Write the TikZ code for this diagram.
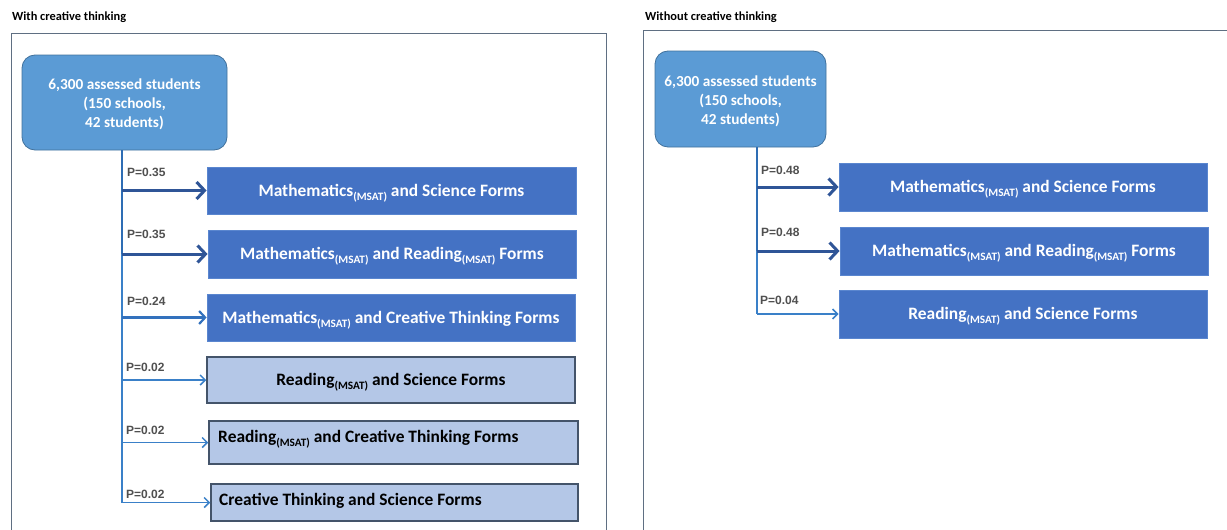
\documentclass[tikz,border=0pt]{standalone}
\usepackage{fontspec}
\setmainfont{Carlito}
\newfontfamily\arialf{Liberation Sans}
\usetikzlibrary{arrows.meta}
\definecolor{rootfill}{HTML}{5B9BD5}
\definecolor{rootdraw}{HTML}{41719C}
\definecolor{dfill}{HTML}{4472C4}
\definecolor{dborder}{HTML}{5A86CF}
\definecolor{lfill}{HTML}{B4C7E7}
\definecolor{lborder}{HTML}{44546A}
\definecolor{pgray}{HTML}{505050}
\definecolor{framec}{HTML}{5F6F82}
\definecolor{thickc}{HTML}{2F5597}
\definecolor{medc}{HTML}{3371BD}
\definecolor{thinc}{HTML}{3A80C8}
\definecolor{trunkc}{HTML}{2E6DB4}
\newcommand\msub{\raisebox{-4pt}{\fontsize{11.3}{11}\selectfont (MSAT)}}
\begin{document}
\begin{tikzpicture}[x=1pt,y=-1pt,
  rootbox/.style={rectangle, rounded corners=13pt, fill=rootfill, draw=rootdraw, line width=0.8pt, inner sep=0pt},
  roottext/.style={text=white, font=\fontsize{15.3}{19}\selectfont\bfseries, align=center, inner sep=0pt},
  dbox/.style={rectangle, fill=dfill, draw=dborder, line width=0.8pt, text=white,
    font=\fontsize{17.4}{20}\selectfont\bfseries, inner sep=0pt, text height=11pt, text depth=0pt},
  lbox/.style={rectangle, fill=lfill, draw=lborder, line width=1.5pt, text=black,
    font=\fontsize{17.4}{20}\selectfont\bfseries, inner sep=0pt, text height=11pt, text depth=0pt},
  lbltext/.style={anchor=west, inner sep=0pt, text=black, font=\fontsize{17.4}{20}\selectfont\bfseries,
    text height=11pt, text depth=0pt},
  plab/.style={anchor=west, inner sep=0pt, text=pgray, font=\arialf\bfseries\fontsize{12}{12}\selectfont},
  titlelab/.style={anchor=west, inner sep=0pt, text=black, font=\fontsize{12.4}{12}\selectfont\bfseries},
  framel/.style={draw=framec, line width=1pt},
  thickarr/.style={draw=thickc, line width=3pt, -{Straight Barb[length=8pt,width=17pt]}},
  medarr/.style={draw=medc, line width=2.2pt, -{Straight Barb[length=6pt,width=13pt]}},
  thinarr/.style={draw=thinc, line width=1.5pt, -{Straight Barb[length=5pt,width=10pt]}},
  trunkthick/.style={draw=trunkc, line width=2.6pt},
  trunkthin/.style={draw=thinc, line width=1.8pt}
]
\useasboundingbox (0,0) rectangle (1227,530);

% titles and frames
\node[titlelab] (t1) at (12,17) {With creative thinking};
\node[titlelab] (t2) at (645,17) {Without creative thinking};
\draw[framel] (11,530) -- (11,33) -- (606,33) -- (606,530);
\draw[framel] (643,530) -- (643,30) -- (1227,30);

% ---------- left panel ----------
\node[rootbox, minimum width=205pt, minimum height=95pt] (rootL) at (124.5,102.5) {};
\node[roottext] (rootLt) at (124.5,104.5) {6,300 assessed students\\(150 schools,\\42 students)};

\node[dbox, minimum width=369pt, minimum height=47pt] (m1) at (391.5,190.5)
  {Mathematics\msub{} and Science Forms};
\node[dbox, minimum width=368pt, minimum height=48pt] (m2) at (392,254)
  {Mathematics\msub{} and Reading\msub{} Forms};
\node[dbox, minimum width=368pt, minimum height=47pt] (m3) at (391,317.5)
  {Mathematics\msub{} and Creative Thinking Forms};
\node[lbox, minimum width=368pt, minimum height=46pt] (r4) at (391,380)
  {Reading\msub{} and Science Forms};
\node[lbox, minimum width=369pt, minimum height=43pt] (r5) at (393.5,442.5) {};
\node[lbltext] (r5t) at (218,437) {Reading\msub{} and Creative Thinking Forms};
\node[lbox, minimum width=367pt, minimum height=37pt] (r6) at (394.5,502.5) {};
\node[lbltext] (r6t) at (219,499.5) {Creative Thinking and Science Forms};

\coordinate (tl) at ([xshift=-2.5pt]rootL.south);
\draw[trunkthick] (tl) -- (tl |- m2.west);
\draw[trunkthin] (tl |- m2.west) -- (tl |- r6.west);

\draw[thickarr] (tl |- m1.west) -- (m1.west);
\draw[thickarr] (tl |- m2.west) -- (m2.west);
\draw[medarr] (tl |- m3.west) -- (m3.west);
\draw[thinarr] (tl |- r4.west) -- (r4.west);
\draw[thinarr] (tl |- r5.west) -- (r5.west);
\draw[thinarr] (tl |- r6.west) -- (r6.west);

\node[plab] (p1) at (127,172) {P=0.35};
\node[plab] (p2) at (127,234) {P=0.35};
\node[plab] (p3) at (127,301) {P=0.24};
\node[plab] (p4) at (126,367) {P=0.02};
\node[plab] (p5) at (126,430) {P=0.02};
\node[plab] (p6) at (126,494) {P=0.02};

% ---------- right panel ----------
\node[rootbox, minimum width=171pt, minimum height=96pt] (rootR) at (740.5,99) {};
\node[roottext] (rootRt) at (740.5,101) {6,300 assessed students\\(150 schools,\\42 students)};

\node[dbox, minimum width=368pt, minimum height=48pt] (n1) at (1023,187)
  {Mathematics\msub{} and Science Forms};
\node[dbox, minimum width=368pt, minimum height=48pt] (n2) at (1024,251)
  {Mathematics\msub{} and Reading\msub{} Forms};
\node[dbox, minimum width=368pt, minimum height=48pt] (n3) at (1023,314)
  {Reading\msub{} and Science Forms};

\coordinate (tr) at ([xshift=16.5pt]rootR.south);
\draw[trunkthick] (tr) -- (tr |- n2.west);
\draw[trunkthin] (tr |- n2.west) -- (tr |- n3.west);

\draw[thickarr] (tr |- n1.west) -- (n1.west);
\draw[thickarr] (tr |- n2.west) -- (n2.west);
\draw[thinarr] (tr |- n3.west) -- (n3.west);

\node[plab] (q1) at (761,170) {P=0.48};
\node[plab] (q2) at (761,232) {P=0.48};
\node[plab] (q3) at (760,300) {P=0.04};
\end{tikzpicture}
\end{document}
